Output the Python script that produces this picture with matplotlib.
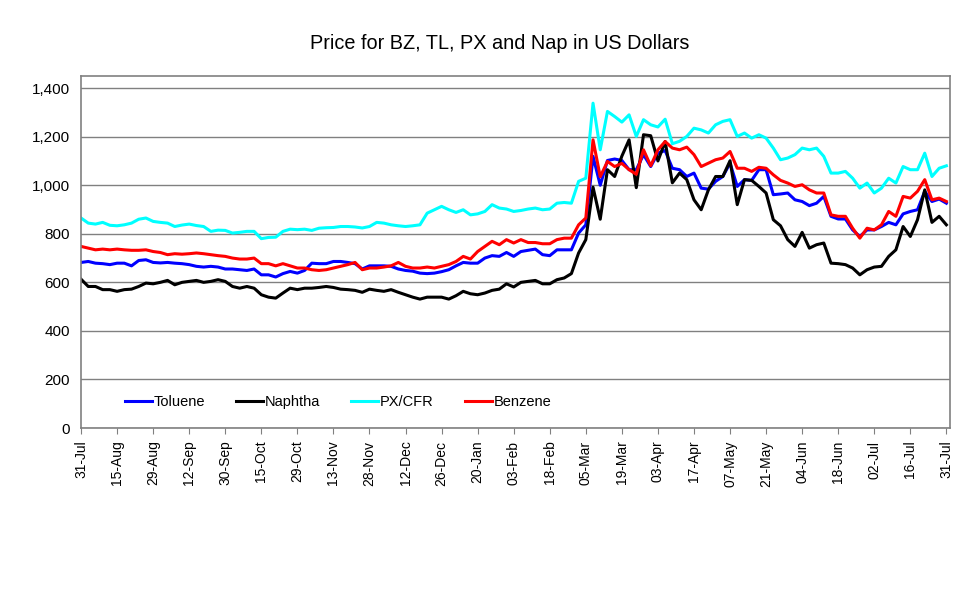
import numpy as np
import matplotlib.pyplot as plt

# tick labels, one every 10 trading days
tick_labels = ['31-Jul', '15-Aug', '29-Aug', '12-Sep', '30-Sep', '15-Oct', '29-Oct',
               '13-Nov', '28-Nov', '12-Dec', '26-Dec', '20-Jan', '03-Feb', '18-Feb',
               '05-Mar', '19-Mar', '03-Apr', '17-Apr', '07-May', '21-May', '04-Jun',
               '18-Jun', '02-Jul', '16-Jul', '31-Jul']

# prices (USD), read every 2nd trading day
toluene = [682, 686, 679, 677, 673, 679, 679, 668, 690, 693,
           682, 680, 682, 679, 677, 673, 666, 663, 666, 663,
           655, 655, 652, 649, 655, 631, 631, 622, 636, 645,
           638, 649, 679, 677, 677, 686, 686, 682, 677, 655,
           668, 668, 668, 666, 655, 649, 646, 638, 636, 638,
           644, 652, 668, 682, 679, 679, 700, 710, 707, 723,
           707, 727, 732, 737, 714, 710, 734, 734, 734, 803,
           837, 1119, 1000, 1102, 1108, 1102, 1064, 1064, 1126, 1077,
           1132, 1143, 1070, 1064, 1036, 1050, 988, 984, 1016, 1036,
           1091, 995, 1023, 1020, 1064, 1064, 961, 964, 968, 940,
           933, 916, 926, 954, 872, 861, 861, 816, 789, 816,
           816, 830, 847, 837, 882, 892, 899, 975, 933, 943, 926]

naphtha = [613, 583, 583, 570, 570, 563, 570, 572, 583, 597,
           594, 600, 608, 590, 600, 604, 608, 600, 604, 611,
           604, 583, 576, 583, 576, 549, 539, 535, 556, 576,
           570, 576, 576, 579, 583, 579, 572, 570, 567, 559,
           572, 567, 563, 570, 559, 549, 539, 531, 539, 539,
           539, 531, 545, 563, 553, 549, 556, 567, 572, 594,
           581, 600, 604, 608, 594, 594, 611, 618, 636, 721,
           776, 992, 860, 1064, 1036, 1120, 1187, 990, 1208, 1204,
           1100, 1180, 1010, 1050, 1023, 940, 899, 981, 1036, 1036,
           1101, 920, 1023, 1020, 995, 968, 858, 833, 776, 748,
           806, 741, 755, 762, 679, 677, 673, 659, 631, 652,
           663, 666, 707, 734, 830, 789, 858, 981, 847, 872, 837]

px_cfr = [865, 844, 840, 847, 835, 833, 837, 844, 860, 865,
          851, 847, 844, 830, 836, 840, 834, 830, 810, 815,
          814, 803, 806, 810, 810, 780, 785, 786, 810, 819,
          817, 819, 814, 823, 825, 826, 830, 830, 828, 824,
          830, 847, 844, 837, 833, 830, 833, 837, 885, 899,
          913, 899, 888, 899, 878, 882, 892, 920, 906, 902,
          892, 896, 902, 906, 899, 902, 926, 929, 926, 1016,
          1029, 1338, 1146, 1304, 1283, 1260, 1290, 1201, 1270, 1249,
          1240, 1272, 1171, 1181, 1201, 1235, 1228, 1215, 1249, 1263,
          1270, 1201, 1215, 1194, 1208, 1194, 1153, 1105, 1112, 1126,
          1153, 1146, 1153, 1119, 1050, 1050, 1057, 1029, 988, 1009,
          968, 988, 1029, 1009, 1077, 1064, 1064, 1132, 1036, 1070, 1080]

benzene = [748, 741, 734, 737, 734, 737, 734, 732, 732, 734,
           727, 723, 714, 718, 716, 718, 721, 718, 714, 710,
           707, 700, 696, 696, 700, 677, 677, 668, 677, 668,
           659, 659, 652, 649, 652, 659, 666, 673, 682, 652,
           659, 659, 663, 668, 682, 666, 659, 659, 663, 659,
           666, 673, 686, 707, 696, 727, 748, 769, 755, 776,
           762, 776, 764, 764, 759, 759, 776, 782, 782, 837,
           865, 1187, 1035, 1098, 1077, 1090, 1064, 1045, 1146, 1080,
           1146, 1180, 1153, 1146, 1157, 1126, 1077, 1091, 1105, 1112,
           1139, 1070, 1070, 1057, 1074, 1070, 1043, 1020, 1009, 995,
           1002, 981, 968, 968, 878, 872, 872, 823, 782, 823,
           816, 837, 892, 872, 954, 947, 975, 1023, 940, 947, 933]

x = np.arange(len(toluene)) * 2  # trading day index

plt.rcParams['font.family'] = ['Liberation Sans', 'DejaVu Sans']

fig = plt.figure(figsize=(9.67, 5.89), dpi=100)
ax = fig.add_axes([0.0838, 0.2733, 0.8986, 0.5977])

ax.plot(x, toluene, color='#0000FF', lw=2.2, label='Toluene')
ax.plot(x, naphtha, color='black', lw=2.2, label='Naphtha')
ax.plot(x, px_cfr, color='#00FFFF', lw=2.2, label='PX/CFR')
ax.plot(x, benzene, color='#FF0000', lw=2.2, label='Benzene')

ax.set_xlim(0, 241)
ax.set_ylim(0, 1450)
ax.set_yticks(range(0, 1401, 200))
ax.set_yticklabels([f'{v:,}' for v in range(0, 1401, 200)], fontsize=11)
ax.set_xticks(np.arange(len(tick_labels)) * 10)
ax.set_xticklabels(tick_labels, rotation=90, fontsize=10)
ax.tick_params(axis='y', length=0, pad=8)
ax.tick_params(axis='x', direction='out', length=4, color='#808080', pad=5)
ax.grid(axis='y', color='#808080', lw=1)
ax.set_axisbelow(True)
for s in ax.spines.values():
    s.set_color('#808080')
    s.set_linewidth(1.2)

ax.legend(loc='center left', bbox_to_anchor=(0.0506, 0.074), ncol=4, frameon=False,
          fontsize=10.5, handlelength=1.85, handletextpad=0.1, columnspacing=2.15,
          borderpad=0, borderaxespad=0)

fig.text(0.5165, 0.926, 'Price for BZ, TL, PX and Nap in US Dollars', ha='center',
         va='center', fontsize=14.3)

fig.savefig('out.png', dpi=100)
